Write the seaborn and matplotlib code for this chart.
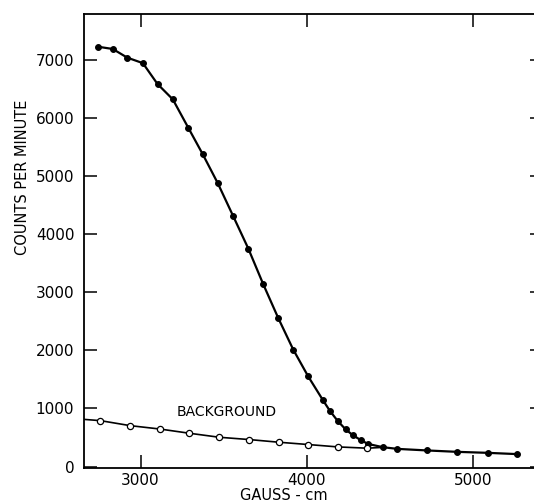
import matplotlib
matplotlib.use("Agg")
import matplotlib.pyplot as plt
import seaborn as sns
import pandas as pd

# counting rate vs field (filled dots)
field_main = [2743, 2833, 2920, 3014, 3102, 3194, 3287, 3374, 3464, 3557,
              3648, 3738, 3828, 3918, 4008, 4098, 4138, 4186, 4233, 4277,
              4323, 4367, 4457, 4545, 4724, 4904, 5087, 5265]
counts_main = [7227, 7188, 7039, 6944, 6585, 6321, 5832, 5376, 4880, 4311,
               3752, 3137, 2556, 2014, 1552, 1137, 961, 783, 641, 538,
               458, 390, 333, 304, 277, 253, 236, 214]

# background (open circles)
field_bg = [2759, 2938, 3116, 3294, 3474, 3652, 3830, 4008, 4186, 4363]
counts_bg = [790, 704, 646, 573, 504, 465, 419, 379, 338, 316]

# drawn background line, runs from the left axis into the main curve
field_bg_line = [2660] + field_bg + [4457]
counts_bg_line = [812] + counts_bg + [330]

x_ticks = [3000, 4000, 5000]
y_ticks = [0, 1000, 2000, 3000, 4000, 5000, 6000, 7000]
y_tick_labels = ["0", "1000", "2000", "3000", "4000", "5000", "6000", "7000"]

main = pd.DataFrame({"field": field_main, "counts": counts_main})
bg = pd.DataFrame({"field": field_bg, "counts": counts_bg})
bg_line = pd.DataFrame({"field": field_bg_line, "counts": counts_bg_line})

sns.set_theme(style="ticks")
plt.rcParams["font.family"] = ["DejaVu Sans"]
plt.rcParams["text.color"] = "black"
plt.rcParams["axes.labelcolor"] = "black"

fig = plt.figure(figsize=(5.34, 5.03), dpi=100)
ax = fig.add_axes([84 / 534, 35 / 503, 459 / 534, 454 / 503])

sns.lineplot(data=bg_line, x="field", y="counts", color="black", lw=1.2, ax=ax)
sns.scatterplot(data=bg, x="field", y="counts", marker="o", s=20,
                facecolor="white", edgecolor="black", linewidth=0.9, ax=ax, zorder=3)
sns.lineplot(data=main, x="field", y="counts", color="black", lw=1.6,
             marker="o", markersize=4.2, markeredgecolor="black", ax=ax)

ax.text(3216, 932, "BACKGROUND", fontsize=10, va="center", ha="left", color="black")

ax.set_xlim(2660, 5420)
ax.set_ylim(-25, 7790)
ax.set_xticks(x_ticks)
ax.set_yticks(y_ticks)
ax.set_yticklabels(y_tick_labels)
ax.tick_params(direction="in", length=9.5, width=1.1, top=True, right=True,
               labelsize=11, colors="black")
ax.tick_params(axis="y", pad=7)
ax.tick_params(axis="x", pad=3.5)
for s in ax.spines.values():
    s.set_linewidth(1.3)
    s.set_color("black")

ax.set_xlabel("GAUSS - cm", fontsize=10.5)
ax.set_ylabel("COUNTS PER MINUTE", fontsize=10.5)
ax.xaxis.set_label_coords(0.436, -0.043)
ax.yaxis.set_label_coords(-0.118, 0.64)

fig.savefig("out.png", dpi=100)
